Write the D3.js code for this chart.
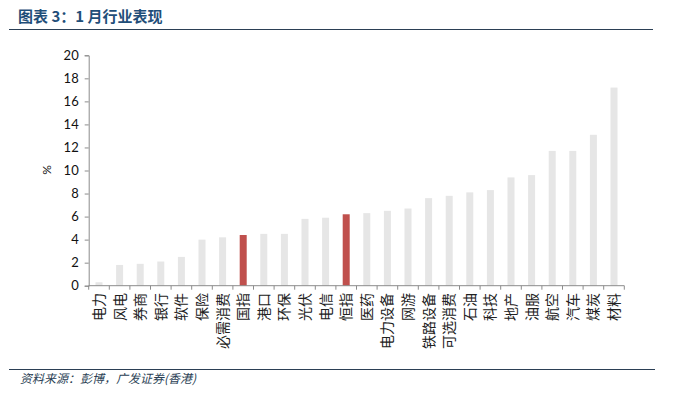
<!DOCTYPE html>
<html><head><meta charset="utf-8">
<script src="https://cdn.jsdelivr.net/npm/d3@7"></script>
<style>body{margin:0;background:#fff}svg{display:block}</style>
</head><body>
<script>
const categories = ["电力","风电","券商","银行","软件","保险","必需消费","国指","港口","环保","光伏","电信","恒指","医药","电力设备","网游","铁路设备","可选消费","石油","科技","地产","油服","航空","汽车","煤炭","材料"];
const values = [0.3,1.8,1.9,2.1,2.5,4.0,4.2,4.4,4.5,4.5,5.8,5.9,6.2,6.3,6.5,6.7,7.6,7.8,8.1,8.3,9.4,9.6,11.7,11.7,13.1,17.2];
const highlighted = ["国指","恒指"];
const yTicks = [0,2,4,6,8,10,12,14,16,18,20];
const titleText = "图表 3：1 月行业表现";
const sourceText = "资料来源：彭博，广发证券(香港)";
const yLabel = "%";

const W = 674, H = 399;
const svg = d3.select("body").append("svg").attr("width", W).attr("height", H);

// title
svg.append("text").attr("x", 18).attr("y", 22)
  .attr("font-family", "Noto Sans CJK SC").attr("font-weight", "bold")
  .attr("font-size", 15).attr("fill", "#1f4e79").text(titleText);
svg.append("line").attr("x1", 9).attr("x2", 653).attr("y1", 29.5).attr("y2", 29.5)
  .attr("stroke", "#2b3f55").attr("stroke-width", 1.2);

const x = d3.scaleBand().domain(categories).range([88.7, 624.3]).paddingInner(0.66).paddingOuter(0.33);
const y = d3.scaleLinear().domain([0, 20]).range([285.7, 55.3]);

// bars
svg.append("g").selectAll("rect").data(categories).join("rect")
  .attr("x", d => x(d)).attr("width", x.bandwidth())
  .attr("y", (d, i) => y(values[i])).attr("height", (d, i) => y(0) - y(values[i]))
  .attr("fill", d => highlighted.includes(d) ? "#c0504d" : "#e6e6e6");

// y axis
const yAxis = svg.append("g").attr("transform", "translate(88.7,0)")
  .call(d3.axisLeft(y).tickValues(yTicks).tickSize(4).tickPadding(6));
yAxis.select(".domain").attr("stroke", "#8c8c8c");
yAxis.selectAll(".tick line").attr("stroke", "#8c8c8c");
yAxis.selectAll(".tick text").attr("font-family", "Lato, 'Liberation Sans', sans-serif")
  .attr("font-size", 13).attr("fill", "#111");

// x axis line and ticks between bands
const x0 = 88.7;
const tickPos = d3.range(categories.length + 1).map(i => x0 + i * (624.3 - 88.7) / categories.length);
svg.append("line").attr("x1", x0).attr("x2", 624.3).attr("y1", y(0)).attr("y2", y(0))
  .attr("stroke", "#8c8c8c");
svg.append("g").selectAll("line").data(tickPos).join("line")
  .attr("x1", d => d).attr("x2", d => d).attr("y1", y(0)).attr("y2", y(0) + 4)
  .attr("stroke", "#8c8c8c");

// x labels, rotated -90, reading bottom to top, anchored at top
svg.append("g").selectAll("text").data(categories).join("text")
  .attr("transform", d => `translate(${x(d) + x.bandwidth() / 2},293) rotate(-90)`)
  .attr("text-anchor", "end").attr("dy", "0.36em")
  .attr("font-family", "'Noto Sans CJK SC'").attr("font-size", 14).attr("fill", "#222")
  .text(d => d);

// y label
svg.append("text").attr("transform", "translate(51,170) rotate(-90)")
  .attr("text-anchor", "middle").attr("font-family", "Lato, sans-serif")
  .attr("font-size", 12).attr("fill", "#111").text(yLabel);

// footer
svg.append("line").attr("x1", 9).attr("x2", 655).attr("y1", 369.5).attr("y2", 369.5)
  .attr("stroke", "#2b3f55").attr("stroke-width", 1.2);
svg.append("text").attr("x", 20).attr("y", 383)
  .attr("font-family", "'Noto Sans CJK SC'").attr("font-style", "italic")
  .attr("font-size", 12).attr("fill", "#2b3f55").text(sourceText);
</script>
</body></html>
